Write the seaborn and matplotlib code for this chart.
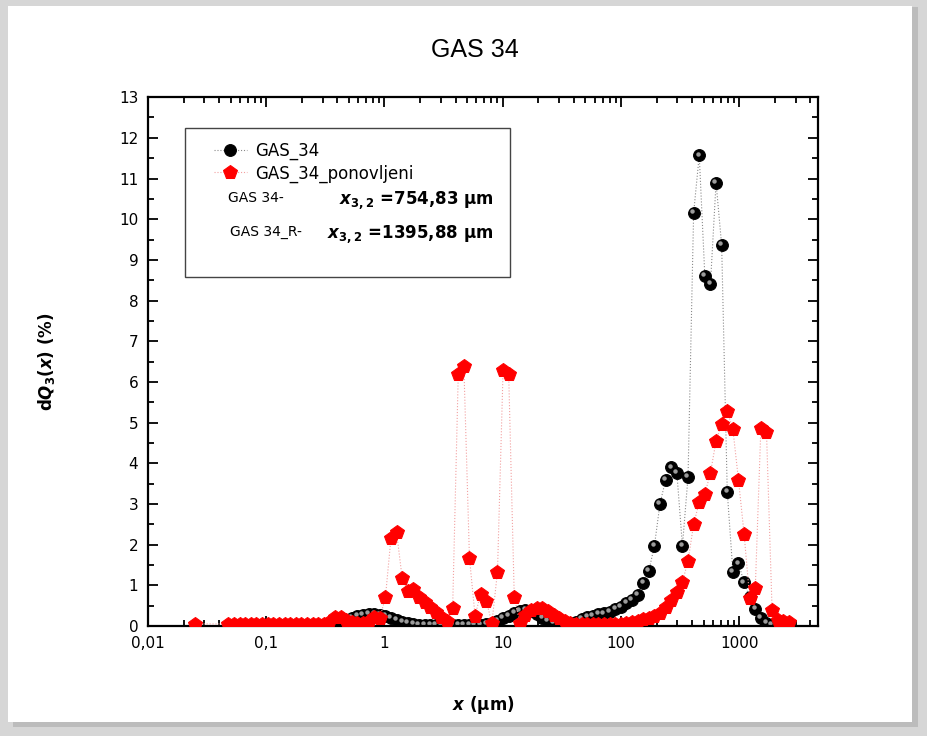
import numpy as np
import pandas as pd
import matplotlib
matplotlib.use("Agg")
import matplotlib.pyplot as plt
import matplotlib.ticker as mticker
from matplotlib.patches import Rectangle
from matplotlib.transforms import offset_copy
import seaborn as sns

nan = np.nan

# size classes (um), shared by both measurements
size_um = [
    0.02489, 0.02776, 0.03096, 0.03453, 0.03851, 0.04295, 0.04791, 0.05343, 0.05959, 0.06646,
    0.07413, 0.08268, 0.09222, 0.1028, 0.1147, 0.1279, 0.1427, 0.1591, 0.1775, 0.1980,
    0.2208, 0.2462, 0.2747, 0.3063, 0.3416, 0.3811, 0.4250, 0.4740, 0.5286, 0.5896,
    0.6577, 0.7335, 0.8181, 0.9124, 1.018, 1.135, 1.266, 1.412, 1.575, 1.756,
    1.959, 2.185, 2.437, 2.718, 3.031, 3.381, 3.771, 4.206, 4.691, 5.232,
    5.834, 6.507, 7.258, 8.094, 9.028, 10.07, 11.23, 12.52, 13.97, 15.58,
    17.38, 19.38, 21.62, 24.11, 26.89, 29.99, 33.45, 37.31, 41.61, 46.41,
    51.76, 57.73, 64.39, 71.81, 80.09, 89.33, 99.63, 111.1, 123.9, 138.2,
    154.2, 171.9, 191.8, 213.9, 238.6, 266.1, 296.8, 331.0, 369.2, 411.7,
    459.2, 512.2, 571.2, 637.1, 710.6, 792.5, 883.9, 985.8, 1100, 1226,
    1368, 1525, 1701, 1897, 2116, 2360, 2633, 2937,
]

# dQ3 (%) - GAS_34
gas34 = [
    nan, nan, nan, nan, nan, nan, nan, nan, nan, nan,
    nan, nan, nan, nan, nan, nan, nan, nan, nan, nan,
    0.01, 0.01, 0.01, 0.01, 0.03, 0.06, 0.10, 0.15, 0.20, 0.25,
    0.28, 0.30, 0.30, 0.28, 0.24, 0.19, 0.14, 0.10, 0.07, 0.05,
    0.03, 0.02, 0.02, 0.02, 0.02, 0.02, 0.02, 0.02, 0.02, 0.02,
    0.02, 0.03, 0.05, 0.08, 0.13, 0.19, 0.25, 0.32, 0.38, 0.40,
    0.37, 0.30, 0.20, 0.12, 0.07, 0.05, 0.05, 0.07, 0.10, 0.17,
    0.22, 0.25, 0.29, 0.31, 0.35, 0.41, 0.47, 0.56, 0.64, 0.76,
    1.05, 1.35, 1.97, 3.01, 3.59, 3.90, 3.77, 1.97, 3.67, 10.15,
    11.57, 8.60, 8.40, 10.90, 9.36, 3.30, 1.33, 1.54, 1.07, 0.70,
    0.41, 0.19, 0.08, 0.02, nan, nan, nan, nan,
]

# dQ3 (%) - GAS_34_ponovljeni
gas34_r = [
    0.05, nan, nan, nan, nan, nan, 0.05, 0.05, 0.05, 0.05,
    0.05, 0.05, 0.05, 0.05, 0.05, 0.05, 0.05, 0.05, 0.05, 0.05,
    0.05, 0.05, 0.05, 0.05, 0.10, 0.23, 0.21, 0.14, 0.09, 0.07,
    0.08, 0.13, 0.21, 0.19, 0.70, 2.17, 2.30, 1.17, 0.86, 0.90,
    0.72, 0.60, 0.47, 0.35, 0.23, 0.12, 0.44, 6.19, 6.39, 1.67,
    0.25, 0.79, 0.62, 0.07, 1.33, 6.29, 6.19, 0.71, 0.07, 0.28,
    0.40, 0.45, 0.43, 0.37, 0.28, 0.19, 0.12, 0.08, 0.06, 0.05,
    0.05, 0.05, 0.05, 0.05, 0.05, 0.05, 0.06, 0.07, 0.09, 0.12,
    0.16, 0.20, 0.25, 0.32, 0.47, 0.63, 0.84, 1.08, 1.60, 2.50,
    3.05, 3.25, 3.76, 4.55, 4.96, 5.28, 4.84, 3.59, 2.26, 0.69,
    0.93, 4.87, 4.77, 0.39, 0.15, 0.13, 0.10, nan,
]

x_ticks = [0.01, 0.1, 1, 10, 100, 1000]
x_tick_labels = ["0,01", "0,1", "1", "10", "100", "1000"]

sns.set_style("ticks")
plt.rcParams["font.family"] = ["DejaVu Sans"]
plt.rcParams["text.color"] = "black"
plt.rcParams["axes.labelcolor"] = "black"
plt.rcParams["mathtext.fontset"] = "custom"
plt.rcParams["mathtext.it"] = "DejaVu Sans:italic:bold"
plt.rcParams["mathtext.rm"] = "DejaVu Sans:bold"
plt.rcParams["mathtext.bf"] = "DejaVu Sans:bold"

df = pd.DataFrame({"size": size_um, "GAS_34": gas34, "GAS_34_ponovljeni": gas34_r})

fig = plt.figure(figsize=(9.28, 7.36), dpi=100, facecolor="#d6d6d6")
# white card with a soft shadow, like the original screenshot
fig.patches.append(Rectangle((0.014, 0.012), 0.975, 0.978, transform=fig.transFigure,
                             facecolor="#bcbcbc", edgecolor="none", zorder=-2))
fig.patches.append(Rectangle((0.009, 0.019), 0.974, 0.973, transform=fig.transFigure,
                             facecolor="white", edgecolor="none", zorder=-1))

ax = fig.add_axes([0.1595, 0.1495, 0.7215, 0.7185])
ax.set_facecolor("white")

sns.lineplot(data=df, x="size", y="GAS_34", ax=ax, estimator=None, sort=False,
             color="#8a8a8a", linestyle=":", linewidth=0.8, marker="o", markersize=8.5,
             markerfacecolor="black", markeredgecolor="black", label="GAS_34", zorder=2)
# little highlight on the black balls
ax.plot(df["size"], df["GAS_34"], ls="none", marker="o", ms=2.2, color="#9c9c9c",
        transform=offset_copy(ax.transData, fig=fig, x=-1.6, y=1.8, units="dots"), zorder=2.1)
sns.lineplot(data=df, x="size", y="GAS_34_ponovljeni", ax=ax, estimator=None, sort=False,
             color="#f2a0a0", linestyle=":", linewidth=0.8, marker="p", markersize=10.5,
             markerfacecolor="#ff0000", markeredgecolor="#ff0000",
             label="GAS_34_ponovljeni", zorder=3)

ax.set_xscale("log")
ax.set_xlim(0.01, 4600)
ax.set_ylim(0, 13)
ax.xaxis.set_major_locator(mticker.FixedLocator(x_ticks))
ax.xaxis.set_major_formatter(mticker.FixedFormatter(x_tick_labels))
ax.xaxis.set_minor_locator(mticker.LogLocator(base=10, subs=np.arange(2, 10)))
ax.xaxis.set_minor_formatter(mticker.NullFormatter())
ax.yaxis.set_major_locator(mticker.MultipleLocator(1))
ax.yaxis.set_minor_locator(mticker.MultipleLocator(0.5))
ax.tick_params(which="both", direction="in", top=True, right=True, width=1.3,
               color="black", labelcolor="black")
ax.tick_params(which="major", length=7, labelsize=11, pad=7)
ax.tick_params(which="minor", length=4)
for s in ax.spines.values():
    s.set_linewidth(1.6)
    s.set_color("black")

ax.set_xlabel(r"$x$ (μm)", fontsize=12, fontweight="bold")
ax.set_ylabel(r"d$Q_3$($x$) (%)", fontsize=12, fontweight="bold")
ax.xaxis.set_label_coords(0.5, -0.128)
ax.yaxis.set_label_coords(-0.136, 0.5)

fig.text(0.512, 0.932, "GAS 34", ha="center", va="center", fontsize=18, color="black",
         family=["Liberation Sans", "DejaVu Sans"])

# legend box with the mean size annotations
ax.add_patch(Rectangle((0.055, 0.66), 0.485, 0.281, transform=ax.transAxes,
                       facecolor="white", edgecolor="#444444", lw=1.0, zorder=4))
leg = ax.legend(loc="upper left", bbox_to_anchor=(0.088, 0.928), frameon=False, fontsize=12,
                handlelength=2.0, handletextpad=0.5, labelspacing=0.25, borderaxespad=0)
leg.set_zorder(5)
ax.text(0.119, 0.809, "GAS 34-", transform=ax.transAxes, fontsize=10, va="center", zorder=6)
ax.text(0.285, 0.805, r"$x_{3,2}$ =754,83 μm", transform=ax.transAxes, fontsize=12,
        fontweight="bold", va="center", zorder=6)
ax.text(0.122, 0.745, "GAS 34_R-", transform=ax.transAxes, fontsize=10, va="center", zorder=6)
ax.text(0.267, 0.741, r"$x_{3,2}$ =1395,88 μm", transform=ax.transAxes, fontsize=12,
        fontweight="bold", va="center", zorder=6)

fig.savefig("out.png", dpi=100, facecolor=fig.get_facecolor())
